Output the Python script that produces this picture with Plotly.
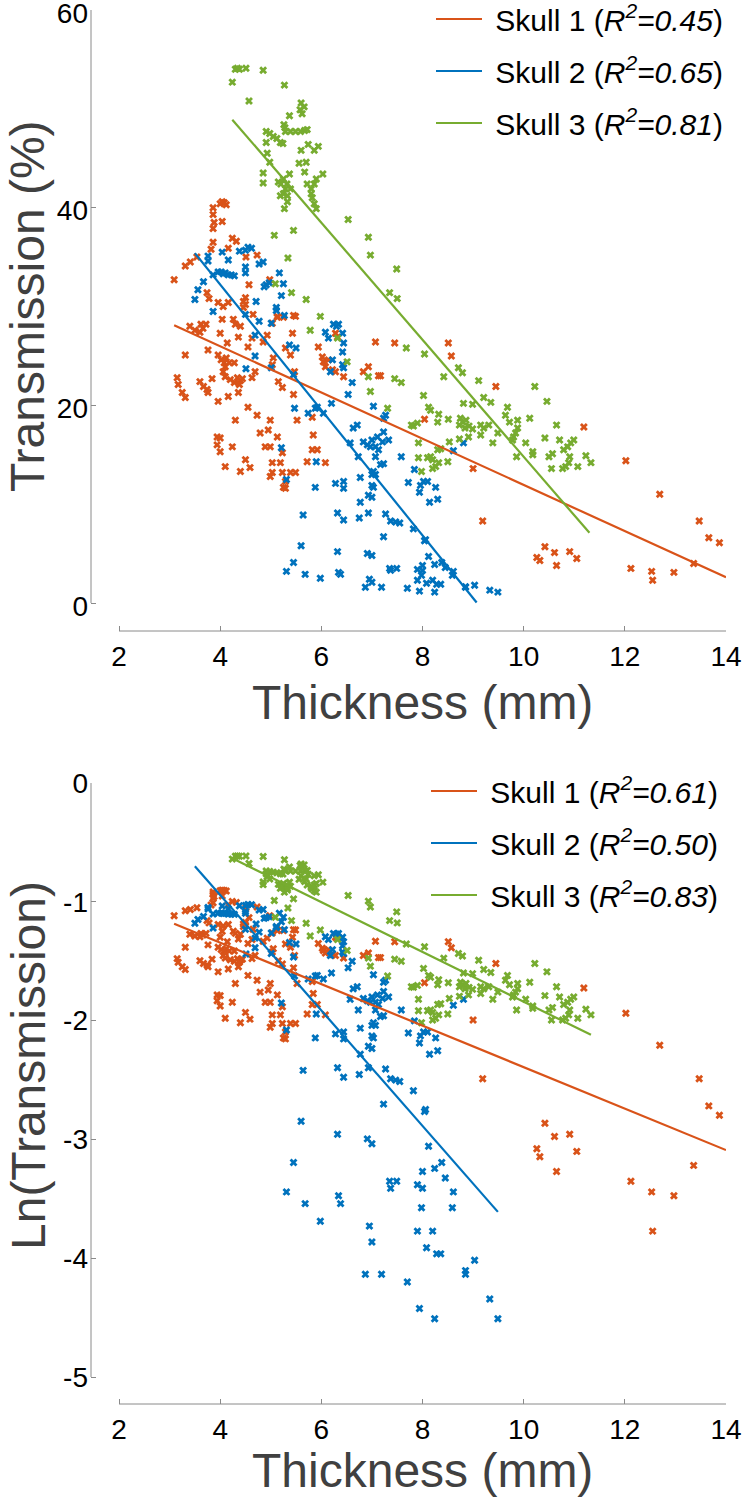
import numpy as np
import plotly.graph_objects as go

W, H = 743, 1500

# ---------------- data (thickness mm, transmission %) ----------------
skull1_points = [
    (4.08, 40.5), (4.12, 40.3), (4.04, 40.6), (4.00, 40.4),
    (3.86, 40.0), (3.86, 39.3), (3.88, 38.5), (4.04, 38.6), (3.86, 37.9),
    (3.86, 36.5), (3.82, 35.8), (4.24, 36.9), (4.32, 36.6), (4.16, 35.9),
    (4.51, 35.0), (4.73, 35.2), (3.54, 35.0), (3.41, 34.5), (3.31, 34.1),
    (3.09, 32.7), (3.74, 31.4), (3.78, 30.8), (3.96, 30.4), (4.06, 30.0),
    (4.16, 30.4), (4.50, 30.9), (4.46, 29.9), (4.57, 32.2), (4.98, 32.7),
    (4.65, 29.2), (5.13, 29.0), (5.25, 28.9), (5.45, 29.1),
    (3.31, 25.1), (3.40, 28.0), (3.50, 27.6), (3.62, 28.2), (3.66, 27.8),
    (3.72, 28.2), (3.60, 27.4), (3.76, 25.6),
    (4.00, 27.3), (4.04, 28.7), (4.14, 26.3), (4.26, 28.7), (4.30, 28.2),
    (4.36, 26.9), (4.40, 28.0), (4.46, 30.5), (4.50, 30.2),
    (3.96, 25.1), (4.02, 24.6), (4.08, 24.3), (4.10, 23.9), (4.12, 24.8),
    (4.18, 24.3), (4.28, 24.3), (4.06, 23.4), (4.10, 22.9),
    (4.20, 22.6), (4.28, 22.3), (4.34, 22.8), (4.40, 22.5), (4.44, 22.7), (4.38, 22.1),
    (3.15, 22.8), (3.17, 22.1), (3.25, 21.3), (3.31, 20.8), (3.60, 22.4),
    (3.67, 21.9), (3.74, 21.6), (3.76, 21.3), (3.84, 22.7), (3.96, 20.4),
    (4.16, 20.9), (4.36, 21.3), (4.55, 19.8), (4.73, 19.0), (4.30, 18.5),
    (3.94, 16.8), (4.00, 16.7), (3.94, 16.0), (4.00, 15.3), (4.24, 15.8), (4.10, 13.8),
    (4.40, 13.3), (4.59, 13.7), (4.50, 14.5),
    (4.79, 17.2), (4.95, 17.5), (4.89, 15.8), (4.99, 15.8), (5.13, 16.8),
    (4.99, 18.5), (5.03, 14.2), (5.03, 13.2), (4.99, 12.8), (5.19, 14.2),
    (5.23, 15.2), (5.23, 13.2), (5.25, 11.7), (5.29, 11.6), (5.39, 13.2),
    (5.49, 13.2), (5.29, 12.3),
    (5.15, 22.4), (5.23, 21.8), (5.45, 21.1), (5.52, 18.5), (5.47, 23.4),
    (5.29, 25.8), (5.39, 25.1), (5.05, 24.8), (5.03, 24.1), (4.69, 23.4), (4.63, 22.8),
    (4.55, 25.9), (4.63, 26.8), (4.85, 26.4), (4.93, 27.1), (5.03, 28.3),
    (5.13, 28.9), (5.49, 29.0), (5.43, 27.3),
    (5.72, 14.3), (5.82, 15.5), (5.92, 15.5), (5.84, 17.0), (6.08, 14.2),
    (5.94, 25.9), (6.02, 24.9), (6.04, 24.4), (6.08, 23.9), (6.14, 24.6),
    (6.22, 23.6), (6.28, 27.3), (6.32, 26.9), (6.28, 23.4), (6.44, 22.9),
    (7.07, 26.4), (6.83, 23.4), (6.93, 23.9), (7.13, 23.0), (5.82, 18.8),
    (7.45, 26.3), (8.51, 26.3), (8.57, 25.0), (7.17, 23.0), (9.45, 21.9),
    (8.04, 18.6), (9.00, 13.6), (11.19, 17.8), (12.02, 14.4), (12.69, 11.0),
    (9.19, 8.3), (10.42, 5.7), (10.26, 4.6), (10.32, 4.3), (10.61, 5.1),
    (10.91, 5.2), (11.05, 4.5), (10.65, 3.8), (12.12, 3.5), (12.53, 3.2),
    (12.55, 2.3), (12.97, 3.1), (13.36, 4.0), (13.47, 8.3), (13.66, 6.6), (13.87, 6.1),
]

skull2_points = [
    (4.55, 36.0), (4.50, 35.7), (4.62, 35.9), (4.38, 35.6), (4.04, 35.5),
    (3.76, 35.1), (3.76, 34.6), (4.16, 34.7), (4.77, 34.3), (4.85, 34.5), (4.50, 34.0),
    (3.86, 33.2), (3.96, 33.5), (4.02, 33.5), (4.10, 33.4), (4.16, 33.2),
    (4.22, 33.2), (4.28, 33.1), (4.06, 33.3), (4.50, 33.4), (3.67, 32.5),
    (5.17, 33.4), (4.91, 32.2), (4.87, 32.0), (4.97, 32.4), (5.25, 32.3),
    (3.56, 31.7), (5.21, 31.1), (3.50, 30.7), (4.71, 30.5), (3.86, 29.5),
    (5.11, 29.9), (5.11, 29.6), (5.27, 29.1),
    (4.50, 29.2), (4.77, 28.5), (5.01, 28.3), (4.69, 27.1), (5.37, 26.1),
    (5.50, 25.8), (4.69, 25.0), (4.51, 23.7), (5.01, 23.8), (5.45, 23.1), (5.47, 19.7),
    (6.08, 27.4), (6.14, 26.8), (6.24, 28.2), (6.34, 28.2), (6.42, 27.3),
    (6.44, 26.3), (6.42, 25.4), (6.22, 24.6), (6.42, 24.1), (6.18, 23.4),
    (6.44, 23.8), (6.30, 28.0),
    (6.53, 21.1), (6.61, 22.3), (6.20, 20.2), (5.88, 19.7), (5.92, 19.8),
    (5.74, 19.2), (6.04, 19.2),
    (6.63, 17.7), (6.71, 18.0), (6.57, 16.2), (6.83, 16.3), (6.91, 16.0),
    (6.97, 15.8), (7.00, 16.5), (6.73, 14.8),
    (7.03, 13.3), (7.00, 13.0), (7.03, 11.7), (7.00, 10.7), (6.93, 10.9),
    (6.77, 12.7), (6.77, 10.2), (6.75, 8.6), (6.93, 9.1),
    (6.28, 12.1), (6.44, 12.3), (6.44, 11.6), (5.88, 11.7), (6.32, 9.1),
    (6.44, 8.4), (5.90, 14.3), (5.21, 15.7), (5.31, 12.5), (5.64, 8.9),
    (5.60, 5.8), (5.45, 4.1), (5.31, 3.2), (5.68, 2.9), (5.98, 2.5),
    (6.32, 5.2), (6.34, 3.1), (6.38, 2.9), (6.91, 5.0), (7.00, 4.8),
    (6.95, 2.4), (7.00, 2.1), (6.87, 1.6), (7.19, 1.6),
    (7.03, 19.9), (7.27, 19.0), (7.23, 18.7), (7.11, 16.8), (7.21, 16.3),
    (7.33, 16.5), (7.23, 17.3), (7.07, 15.8), (7.13, 15.5), (7.07, 14.8),
    (7.17, 14.0), (7.23, 14.1), (7.07, 13.0), (7.00, 11.9), (7.58, 14.8),
    (8.81, 16.2), (8.61, 15.4), (7.84, 13.5), (7.72, 12.2), (7.96, 11.9),
    (8.02, 12.3), (8.10, 12.3), (7.94, 11.2), (8.26, 11.7), (8.14, 10.2),
    (8.30, 10.5), (7.27, 9.0), (7.37, 8.3), (7.47, 8.2), (7.55, 8.1),
    (7.82, 7.5), (7.23, 6.7), (8.06, 6.4), (8.04, 6.3), (8.12, 4.7),
    (8.24, 3.9), (8.38, 4.1), (8.45, 3.6), (8.00, 3.8), (7.90, 3.4),
    (8.00, 3.3), (8.61, 3.2), (7.98, 2.8), (8.59, 2.8), (7.35, 3.5),
    (7.49, 3.5), (7.37, 3.3), (7.90, 2.3), (8.20, 2.3), (8.08, 2.0),
    (8.28, 1.9), (8.36, 1.9), (9.03, 1.8), (8.85, 1.65), (8.85, 1.6),
    (7.70, 1.5), (9.33, 1.3), (7.94, 1.2), (8.24, 1.1), (9.49, 1.1),
]

skull3_points = [
    (4.30, 54.0), (4.34, 54.1), (4.38, 54.0), (4.51, 54.1), (4.85, 53.9),
    (4.24, 52.7), (5.27, 52.4), (4.57, 50.8),
    (5.60, 50.6), (5.58, 49.9), (5.66, 50.2), (5.62, 49.5), (5.37, 49.3),
    (5.26, 48.4), (5.28, 48.1),
    (4.91, 47.7), (4.98, 47.5), (5.05, 47.2), (5.12, 47.0), (5.19, 46.6),
    (5.24, 46.5), (5.29, 47.7), (5.39, 47.7), (5.49, 47.7), (5.59, 47.7),
    (5.67, 47.8), (5.72, 47.9),
    (4.91, 46.6), (5.74, 46.4), (5.94, 46.2), (5.86, 45.8), (5.60, 45.8),
    (4.93, 45.5), (4.98, 44.6), (5.56, 44.5), (5.70, 44.6), (5.67, 43.6),
    (6.03, 43.4), (4.85, 43.5), (4.85, 42.5),
    (5.15, 42.6), (5.20, 42.4), (5.25, 42.9), (5.29, 41.9), (5.32, 42.4),
    (5.39, 41.9), (5.37, 43.4), (5.25, 41.4), (5.19, 41.2), (5.33, 41.2), (5.33, 40.6),
    (5.72, 42.4), (5.80, 41.9), (5.86, 42.4), (5.90, 42.9), (5.82, 41.0),
    (5.86, 40.4), (5.80, 41.4),
    (5.27, 39.9), (5.90, 39.9), (6.53, 38.8), (5.45, 37.7), (5.07, 37.2),
    (6.93, 37.0), (6.97, 35.2), (5.34, 34.9), (5.41, 31.4), (5.70, 30.7),
    (5.09, 32.3), (5.98, 29.0), (7.49, 33.8), (7.35, 31.4), (7.50, 30.8),
    (5.78, 27.6), (6.32, 26.8), (6.51, 24.4), (6.93, 22.9), (6.97, 21.4),
    (7.68, 25.8), (8.04, 25.2), (8.71, 23.8), (8.79, 23.3), (8.42, 22.9),
    (7.45, 22.7), (7.58, 22.3), (9.11, 22.5), (10.22, 21.9), (8.02, 21.0),
    (9.21, 20.8), (9.35, 20.3), (10.46, 20.4), (8.81, 20.2), (8.99, 20.1),
    (7.31, 19.7), (8.12, 19.8), (8.16, 19.5), (9.68, 19.8), (8.32, 19.1),
    (8.51, 18.6), (8.30, 18.3), (9.64, 19.0), (9.72, 18.3), (9.88, 18.5),
    (10.12, 18.7), (10.65, 18.0), (7.82, 17.9), (7.90, 18.2), (7.78, 18.0),
    (8.75, 18.7), (8.80, 18.3), (8.86, 18.5), (8.84, 17.7), (8.92, 17.9),
    (8.99, 17.6), (8.73, 18.0),
    (9.21, 17.7), (9.15, 18.0), (9.15, 17.0), (9.31, 18.0), (9.49, 17.2),
    (9.88, 17.7), (9.84, 17.2), (9.80, 16.8), (9.78, 16.5), (9.39, 16.2),
    (7.92, 16.2), (8.53, 16.3), (8.36, 15.6), (8.30, 15.5), (8.73, 16.6),
    (8.91, 16.8), (10.04, 16.2), (10.42, 16.7), (10.71, 16.5), (10.79, 15.5),
    (10.87, 15.8), (10.93, 16.2), (10.99, 16.5), (10.18, 15.3), (10.18, 15.0),
    (10.57, 15.1), (10.50, 14.8), (9.86, 14.8), (10.91, 14.8), (10.89, 14.2),
    (11.23, 14.9), (11.33, 14.2), (10.55, 13.6), (10.77, 13.6), (10.83, 13.8),
    (11.07, 13.8), (7.92, 14.7), (8.10, 14.7), (8.16, 14.8), (8.20, 14.5),
    (7.98, 13.3), (8.20, 13.6), (8.26, 13.8), (8.32, 14.2), (8.50, 14.3),
]

# regression lines (end points)
fit1_top_x = [3.09, 14.0]
fit1_top_y = [28.1, 2.6]
fit2_top_x = [3.50, 9.07]
fit2_top_y = [35.4, 0.05]
fit3_top_x = [4.24, 11.30]
fit3_top_y = [48.9, 7.1]

fit1_bot_x = [3.09, 14.0]
fit1_bot_y = [-1.185, -3.09]
fit2_bot_x = [3.50, 9.49]
fit2_bot_y = [-0.70, -3.61]
fit3_bot_x = [4.22, 11.33]
fit3_bot_y = [-0.63, -2.12]

r2_top = ["0.45", "0.65", "0.81"]
r2_bot = ["0.61", "0.50", "0.83"]

x_ticks = [2, 4, 6, 8, 10, 12, 14]
y1_ticks = [0, 20, 40, 60]
y2_ticks = [0, -1, -2, -3, -4, -5]
y2_labels = ["0", "-1", "-2", "-3", "-4", "-5"]

colors = ["#D95319", "#0072BD", "#77AC30"]
FONT = "Liberation Sans, Arial, Helvetica, sans-serif"
AXC = "#8a8a8a"

# ---------------- geometry (pixels) ----------------
X2_PX, X14_PX = 119, 726
YAX_PX = 91
T_Y60, T_Y0, T_XAX = 10, 603, 631
B_Y0, B_Y5, B_XAX = 783, 1377, 1404

ppx = (X14_PX - X2_PX) / 12.0
x_range = [2 - (X2_PX - YAX_PX) / ppx, 14]
py1 = (T_Y0 - T_Y60) / 60.0
y1_range = [-(T_XAX - T_Y0) / py1, 60]
py2 = (B_Y5 - B_Y0) / 5.0
y2_range = [-5 - (B_XAX - B_Y5) / py2, 0]


def pxx(p):
    return p / W


def pxy(p):
    return 1 - p / H


fig = go.Figure()

all_points = [skull1_points, skull2_points, skull3_points]
fits_top = [(fit1_top_x, fit1_top_y), (fit2_top_x, fit2_top_y), (fit3_top_x, fit3_top_y)]
fits_bot = [(fit1_bot_x, fit1_bot_y), (fit2_bot_x, fit2_bot_y), (fit3_bot_x, fit3_bot_y)]

for i, pts in enumerate(all_points):
    xs = np.array([p[0] for p in pts])
    ts = np.array([p[1] for p in pts])
    fig.add_trace(go.Scatter(x=xs, y=ts, mode="markers", xaxis="x", yaxis="y",
                             marker=dict(symbol="x", size=7, color=colors[i], line=dict(width=0)),
                             showlegend=False, hoverinfo="skip"))
    fig.add_trace(go.Scatter(x=xs, y=np.log(ts / 100.0), mode="markers", xaxis="x2", yaxis="y2",
                             marker=dict(symbol="x", size=7, color=colors[i], line=dict(width=0)),
                             showlegend=False, hoverinfo="skip"))

NB = "\u00a0"
for i in range(3):
    fx, fy = fits_top[i]
    fig.add_trace(go.Scatter(x=fx, y=fy, mode="lines", xaxis="x", yaxis="y",
                             line=dict(color=colors[i], width=2.2),
                             name=NB + f"Skull {i+1} (<i>R<sup>2</sup>=%s</i>)" % r2_top[i],
                             legend="legend", legendgroup=f"t{i}"))
for i in range(3):
    fx, fy = fits_bot[i]
    fig.add_trace(go.Scatter(x=fx, y=fy, mode="lines", xaxis="x2", yaxis="y2",
                             line=dict(color=colors[i], width=2.2),
                             name=NB + f"Skull {i+1} (<i>R<sup>2</sup>=%s</i>)" % r2_bot[i],
                             legend="legend2", legendgroup=f"b{i}"))

axis_common = dict(showgrid=False, zeroline=False, showline=False, ticks="inside",
                   ticklen=5, tickwidth=1, tickcolor=AXC, automargin=False,
                   ticklabeloverflow="allow",
                   tickfont=dict(family=FONT, size=28, color="#000000"))

fig.update_layout(
    width=W, height=H,
    margin=dict(l=0, r=0, t=0, b=0, pad=0, autoexpand=False),
    paper_bgcolor="white", plot_bgcolor="white",
    font=dict(family=FONT),
    xaxis=dict(domain=[pxx(YAX_PX), pxx(X14_PX)], range=x_range, anchor="y",
               tickvals=x_ticks, ticklabelstandoff=6, **axis_common),
    yaxis=dict(domain=[pxy(T_XAX), pxy(T_Y60)], range=y1_range, anchor="x",
               tickvals=y1_ticks, ticklabelstandoff=2, ticklabelshift=3, **axis_common),
    xaxis2=dict(domain=[pxx(YAX_PX), pxx(X14_PX)], range=x_range, anchor="y2",
                tickvals=x_ticks, ticklabelstandoff=6, **axis_common),
    yaxis2=dict(domain=[pxy(B_XAX), pxy(B_Y0)], range=y2_range, anchor="x2",
                tickvals=y2_ticks, ticktext=y2_labels, ticklabelstandoff=2, **axis_common),
    legend=dict(x=pxx(431), y=pxy(-7), xanchor="left", yanchor="top",
                bgcolor="rgba(0,0,0,0)", itemwidth=46, tracegroupgap=10,
                font=dict(family=FONT, size=30, color="#000000")),
    legend2=dict(x=pxx(426), y=pxy(765), xanchor="left", yanchor="top",
                 bgcolor="rgba(0,0,0,0)", itemwidth=46, tracegroupgap=10,
                 font=dict(family=FONT, size=30, color="#000000")),
)

# axis lines spanning only the tick range (offset axes)
for xr, yr, ymax, ymin in [("x", "y", 60, 0), ("x2", "y2", 0, -5)]:
    fig.add_shape(type="line", xref=f"{xr} domain", yref=yr, x0=0, x1=0, y0=ymin, y1=ymax,
                  line=dict(color=AXC, width=1))
    fig.add_shape(type="line", xref=xr, yref=f"{yr} domain", x0=2, x1=14, y0=0, y1=0,
                  line=dict(color=AXC, width=1))

TITLE_FONT = dict(family=FONT, size=48, color="#404040")
annots = [
    dict(text="Transmission (%)", x=pxx(28), y=pxy(306), textangle=-90),
    dict(text="Thickness (mm)", x=pxx(422), y=pxy(702), textangle=0),
    dict(text="Ln(Transmission)", x=pxx(28), y=pxy(1066), textangle=-90),
    dict(text="Thickness (mm)", x=pxx(422), y=pxy(1470), textangle=0),
]
for a in annots:
    fig.add_annotation(xref="paper", yref="paper", xanchor="center", yanchor="middle",
                       showarrow=False, font=TITLE_FONT, **a)

fig.write_html("out.html", config={"displayModeBar": False},
               post_script="document.body.style.margin='0px';")
